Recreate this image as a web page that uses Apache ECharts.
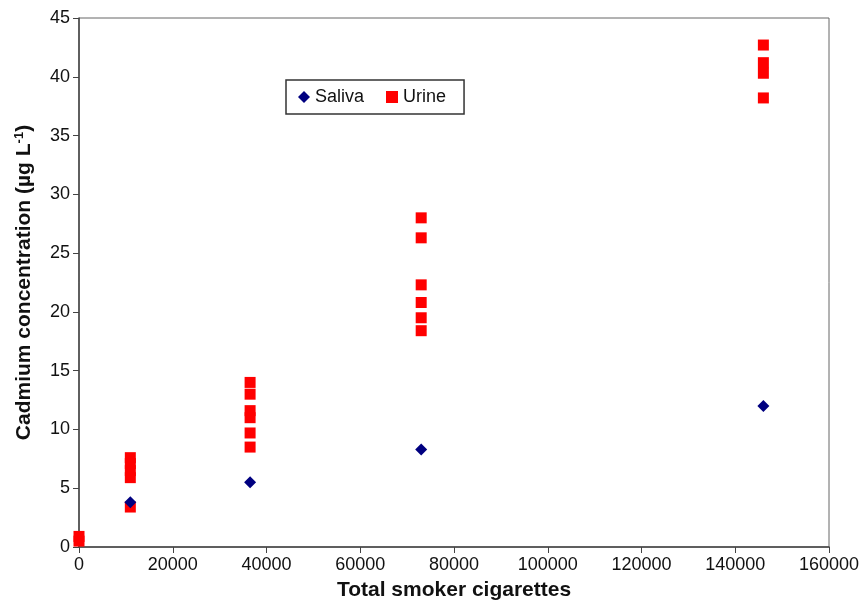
<!DOCTYPE html>
<html><head><meta charset="utf-8">
<script src="https://cdn.jsdelivr.net/npm/echarts@6/dist/echarts.min.js"></script>
<style>html,body{margin:0;padding:0;background:#fff}#c{width:861px;height:601px}</style>
</head><body><div id="c"></div>
<script>
const salivaX = [10950, 36500, 73000, 146000];
const salivaY = [3.8, 5.5, 8.3, 12.0];
const urineX = [0, 0,
  10950, 10950, 10950, 10950, 10950,
  36500, 36500, 36500, 36500, 36500, 36500,
  73000, 73000, 73000, 73000, 73000, 73000,
  146000, 146000, 146000, 146000];
const urineY = [0.5, 0.9,
  3.4, 5.9, 6.5, 7.1, 7.6,
  8.5, 9.7, 11.0, 11.6, 13.0, 14.0,
  18.4, 19.5, 20.8, 22.3, 26.3, 28.0,
  38.2, 40.3, 41.2, 42.7];
const xTicks = {min: 0, max: 160000, interval: 20000};
const yTicks = {min: 0, max: 45, interval: 5};

const chart = echarts.init(document.getElementById('c'));
const font = 'Liberation Sans, Arial, sans-serif';
chart.setOption({
  animation: false,
  textStyle: {fontFamily: font},
  grid: {left: 79, right: 32, top: 18, bottom: 54, show: true, borderColor: '#666', borderWidth: 1,
         containLabel: false, outerBoundsMode: 'none'},
  legend: {
    left: 286, top: 80,
    padding: [8, 18, 8, 12],
    borderColor: '#333', borderWidth: 1.5,
    itemGap: 22, itemWidth: 12, itemHeight: 12,
    textStyle: {fontSize: 18, color: '#111', fontFamily: font},
    data: [{name: 'Saliva', icon: 'diamond'}, {name: 'Urine', icon: 'rect'}]
  },
  xAxis: {
    type: 'value', min: xTicks.min, max: xTicks.max, interval: xTicks.interval,
    name: 'Total smoker cigarettes', nameLocation: 'middle', nameGap: 33,
    nameTextStyle: {fontSize: 21, fontWeight: 'bold', color: '#111', fontFamily: font},
    axisLine: {show: true, lineStyle: {color: '#444', width: 1.5}},
    axisTick: {show: true, length: 6, lineStyle: {color: '#444'}},
    axisLabel: {fontSize: 18, color: '#111', margin: 9, formatter: v => String(v)},
    splitLine: {show: false}
  },
  yAxis: {
    type: 'value', min: yTicks.min, max: yTicks.max, interval: yTicks.interval,
    name: 'Cadmium concentration (µg L{sup|-1})', nameLocation: 'middle', nameGap: 44,
    nameTextStyle: {fontSize: 21, fontWeight: 'bold', color: '#111', fontFamily: font,
      rich: {sup: {fontSize: 13, fontWeight: 'bold', verticalAlign: 'top', color: '#111', padding: [0,0,9,0]}}},
    axisLine: {show: true, lineStyle: {color: '#444', width: 1.5}},
    axisTick: {show: true, length: 6, lineStyle: {color: '#444'}},
    axisLabel: {fontSize: 18, color: '#111', margin: 9},
    splitLine: {show: false}
  },
  series: [
    {name: 'Saliva', type: 'scatter', symbol: 'diamond', symbolSize: 12,
     itemStyle: {color: '#000080', opacity: 1}, z: 3,
     data: salivaX.map((x, i) => [x, salivaY[i]])},
    {name: 'Urine', type: 'scatter', symbol: 'rect', symbolSize: 11,
     itemStyle: {color: '#ff0000', opacity: 1}, z: 2,
     data: urineX.map((x, i) => [x, urineY[i]])}
  ]
});
</script></body></html>
